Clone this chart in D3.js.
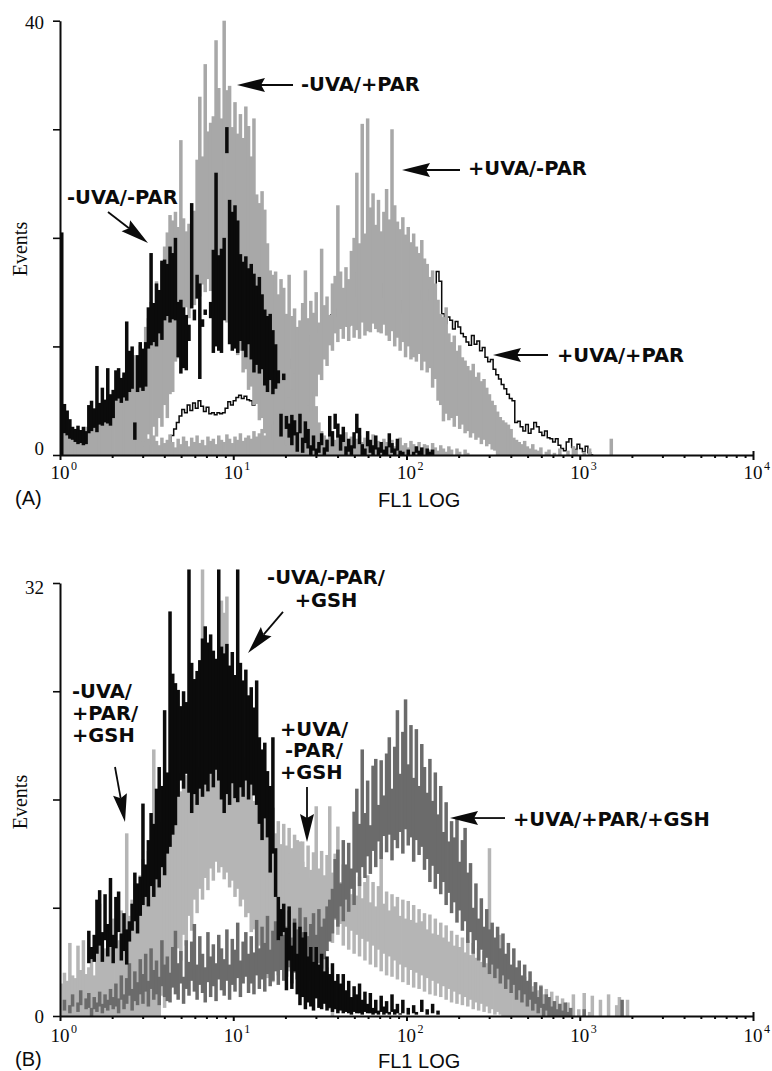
<!DOCTYPE html>
<html>
<head>
<meta charset="utf-8">
<title>FL1 LOG histograms</title>
<script src="https://cdn.jsdelivr.net/npm/d3@7/dist/d3.min.js"></script>
<style>
  html, body { margin: 0; padding: 0; background: #fff; }
  svg { display: block; }
</style>
</head>
<body>
<svg id="fig" width="772" height="1071"></svg>
<script>
// Log-spaced histogram channels: 64 per decade of FL1, channel k starts at 10^(k/64).
const CHANNELS_PER_DECADE = 64;

// Shared x axis (FL1 LOG) decades
const xDecades = [1, 10, 100, 1000, 10000];

// ---------------- Panel A ----------------
const A_yTicks = [0, 10, 20, 30, 40];
const A_yTickLabels = [0, 40];

// -UVA/-PAR (black): low / high extent of the jagged outline in each channel
const A_uvaNeg_parNeg_start = 0;
const A_uvaNeg_parNeg_hi = [
  20.5,
  4.7,4.1,3.3,2.6,2.4,2.7,2.3,2.6,2.2,4.6,
  5.0,4.3,8.2,4.8,6.2,5.1,8.0,5.6,6.0,7.8,
  8.0,7.1,7.6,12.3,9.6,10.0,3.0,9.2,10.4,9.8,
  10.4,13.6,18.6,14.0,15.8,15.2,17.9,18.0,17.6,19.2,
  18.6,20.0,14.1,14.3,13.6,12.9,12.0,23.2,13.4,16.6,
  15.8,12.5,13.4,0,14.1,18.9,26.0,18.4,19.0,20.0,
  30.2,23.5,22.4,23.0,21.6,18.5,17.8,18.3,17.2,17.6,
  16.7,15.6,16.4,14.8,13.4,12.8,13.0,11.5,10.2,7.8,
  3.8,7.5,3.6,2.9,3.7,3.2,2.1,3.8,1.6,3.1,
  2.4,0.9,1.8,0.6,1.2,2.0,0.7,1.4,3.6,2.2,
  3.8,2.9,1.9,2.6,0.8,1.5,0.9,2.1,3.8,2.5,
  1.0,0.6,2.2,1.4,0.9,1.8,0.7,1.2,0.5,0.8,
  2.0,1.1,0.6,1.5,0.4,0.3,0,0.5,0,0.3,
  0.8,0.4,0.7,0,0.6,0.3,0.5
];
const A_uvaNeg_parNeg_lo = [
  0,
  2.0,1.8,1.5,1.4,1.2,1.0,1.1,0.9,1.0,2.0,
  2.2,2.5,2.1,2.8,2.7,3.0,2.9,2.7,3.4,5.0,
  5.2,4.8,5.3,5.0,5.8,6.1,1.4,5.8,6.2,5.9,
  6.3,9.8,10.1,10.4,10.0,11.2,10.6,12.4,12.8,12.2,
  12.5,12.4,9.0,7.5,8.0,7.8,10.5,13.5,12.4,14.4,
  7.0,11.8,12.9,0,12.6,9.4,10.0,9.6,9.4,12.4,
  27.8,10.2,9.6,9.8,9.4,10.5,9.6,9.0,10.2,8.8,
  7.6,8.3,7.5,7.9,6.4,5.8,6.9,5.6,6.1,6.6,
  1.7,6.9,2.4,1.6,0.9,1.8,0.3,2.0,0.2,1.1,
  0.6,0,0.4,0,0.2,0.9,0,0.3,1.7,0.8,
  2.4,1.6,0.4,1.2,0,0.3,0,0.6,2.0,1.0,
  0,0,0.8,0.2,0,0.5,0,0.2,0,0,
  0.7,0.2,0,0.4,0,0,0,0,0,0,
  0.2,0,0,0,0,0,0
];

// -UVA/+PAR (grey)
const A_uvaNeg_parPos_start = 0;
const A_uvaNeg_parPos_hi = [
  1.5,2.0,1.8,2.2,1.6,1.9,2.4,1.7,2.0,2.6,2.1,
  2.8,3.3,2.5,3.0,3.6,4.4,3.2,4.0,4.8,5.5,
  6.2,5.8,7.4,6.9,8.0,7.6,9.2,8.5,10.1,9.6,
  11.8,12.6,14.1,13.2,16.0,15.1,17.7,19.2,20.5,22.1,
  21.6,22.4,21.0,29.0,21.8,20.6,21.3,20.4,22.5,27.2,
  33.0,27.5,36.0,29.8,30.6,31.2,38.2,33.8,31.0,40.0,
  33.6,34.0,30.2,32.5,29.6,31.4,29.2,32.1,30.3,27.5,
  31.0,24.0,23.2,24.3,22.6,19.5,17.0,16.6,16.9,14.8,
  16.2,15.4,13.0,16.6,12.8,13.5,11.8,12.4,14.0,11.5,
  10.2,8.6,6.8,4.5,3.0,2.2,1.8,1.5,2.0,1.6,
  1.4,1.9,1.2,1.6,2.1,1.3,1.7,1.1,1.5,1.8,
  1.2,1.6,1.0,1.4,1.9,1.1,1.3,0.9,1.5,1.2,
  1.0,1.4,0.8,1.2,1.6,0.9,1.1,0.7,1.3,1.0,
  0.8,1.2,0.6,1.0,0.9,0.5,1.1,0.7,0.4,0.9,
  0.6,0.3,0.8,0.5,0,0.6,0.3,0,0.5,0.2
];
const A_uvaNeg_parPos_lo = [
  0,0,0,0,0,0,0,0,0,0,0,
  0,0,0,0,0,0,0,0,0,0,
  0,0,0,0,0,0,0,0,0,0.3,
  0.5,1.9,0.8,2.6,1.7,3.4,2.6,4.6,3.4,5.6,
  5.8,8.6,8.9,11.5,11.4,13.6,12.6,14.4,13.8,15.4,
  14.6,15.7,15.0,16.2,15.1,16.0,14.8,15.3,13.6,14.0,
  12.2,12.6,10.6,11.0,9.2,9.6,7.6,7.9,6.0,6.3,
  4.6,4.7,3.2,3.4,2.0,2.4,1.3,1.5,0.6,0.9,
  0.3,0,0,0,0,0,0,0,0,0,
  0,0,0,0,0,0,0,0,0,0,
  0,0,0,0,0,0,0,0,0,0,
  0,0,0,0,0,0,0,0,0,0,
  0,0,0,0,0,0,0,0,0,0,
  0,0,0,0,0,0,0,0,0,0,
  0,0,0,0,0,0,0,0,0,0
];

// +UVA/-PAR (grey)
const A_uvaPos_parNeg_start = 30;
const A_uvaPos_parNeg_hi = [
  1.2,0.8,1.5,1.0,1.8,1.3,0.9,1.6,1.1,1.4,
  1.9,1.2,0.7,1.5,1.0,1.7,1.3,0.8,1.6,1.2,
  1.8,1.1,1.4,0.9,1.7,1.3,1.5,1.0,1.8,1.4,
  1.2,1.9,1.5,1.1,1.7,1.4,2.0,1.3,1.6,1.8,
  1.5,2.2,1.7,2.0,2.4,1.8,2.6,2.1,2.8,3.2,
  3.6,3.0,4.2,4.8,5.3,6.0,7.5,9.0,11.0,13.5,
  17.0,12.6,14.2,13.1,15.0,12.2,19.0,13.8,14.6,12.9,
  15.8,16.5,23.0,16.9,15.4,17.3,16.2,18.8,20.0,26.0,
  19.5,30.5,20.4,31.0,22.8,24.1,21.2,23.5,20.6,22.4,
  24.5,21.7,30.0,23.0,21.5,20.8,21.9,20.3,21.0,19.6,
  20.4,19.2,18.6,19.8,18.1,17.6,16.4,17.0,15.8,14.3,
  13.0,12.7,13.6,11.2,10.4,11.0,9.6,10.1,9.0,8.7,
  8.2,7.8,8.4,7.2,7.6,6.8,7.0,6.2,5.6,5.0,
  4.6,4.0,3.5,3.2,3.0,2.8,2.4,1.6,1.4,1.2,
  1.0,1.3,0.8,0.6,1.0,0.5,0.4,0.7,0,0.3,
  0.5,0,0.2,0,0.6,0,0,0.4,0,0.8,
  0.5,0,0,0.3,0,0.6,0,0,0,0,
  0,0,0,1.5,0,0
];
const A_uvaPos_parNeg_lo = [
  0,0,0,0,0,0,0,0,0,0,
  0,0,0,0,0,0,0,0,0,0,
  0,0,0,0,0,0,0,0,0,0,
  0,0,0,0,0,0,0,0,0,0,
  0,0,0,0,0,0,0,0,0,0,
  0,0,0.3,0.9,0.5,1.3,0.9,2.1,1.6,3.1,
  2.8,4.6,4.0,5.8,5.4,7.4,6.9,8.8,8.2,10.1,
  9.6,11.2,10.4,11.6,10.7,11.8,10.5,11.9,10.8,11.5,
  10.7,12.2,11.0,11.4,11.3,12.1,11.6,11.3,11.2,12.0,
  11.0,10.5,11.4,10.0,10.8,9.6,10.4,9.0,10.0,8.8,
  9.0,8.6,9.3,7.8,8.6,7.6,8.0,6.2,7.0,5.0,
  4.6,3.1,3.8,3.2,3.4,2.6,3.6,2.4,2.8,2.0,
  2.2,1.6,2.0,1.4,1.6,1.0,1.4,0.8,1.0,0.5,
  0.4,0,0,0,0,0,0,0,0,0,
  0,0,0,0,0,0,0,0,0,0,
  0,0,0,0,0,0,0,0,0,0,
  0,0,0,0,0,0,0,0,0,0,
  0,0,0,0,0,0
];

// +UVA/+PAR (black outline): events per channel
const A_uvaPos_parPos_start = 40;
const A_uvaPos_parPos = [
  1.2,1.8,2.4,3.0,3.6,4.2,3.9,4.6,4.1,4.8,
  4.3,5.0,4.5,4.0,4.4,3.8,3.9,3.7,3.9,3.8,
  3.9,4.3,4.9,4.6,5.0,5.3,5.5,5.2,5.4,5.1,
  5.0,4.6,5.2,5.8,6.1,5.7,6.4,6.9,6.5,7.2,
  7.6,7.1,7.9,8.4,8.0,8.8,9.3,8.9,9.7,10.2,
  9.8,10.5,11.0,10.6,11.3,11.8,11.2,12.0,12.6,12.1,
  12.9,13.4,12.8,13.1,12.4,13.0,11.9,12.8,14.6,16.8,
  14.3,15.2,14.8,16.0,14.6,15.4,16.2,17.0,14.5,15.8,
  16.0,13.5,14.8,12.2,14.0,13.1,14.2,13.6,14.9,14.1,
  15.3,15.0,14.4,15.1,14.6,15.2,14.3,15.5,14.0,16.9,
  16.0,13.0,12.1,12.7,12.4,11.6,12.3,11.8,11.2,10.9,
  10.4,10.1,11.0,10.2,10.5,9.6,9.9,9.0,8.6,8.8,
  7.9,7.4,7.0,6.5,6.1,5.6,5.2,5.0,3.0,3.1,
  2.6,2.2,2.8,2.0,2.4,3.0,2.6,2.1,1.8,2.2,
  1.6,1.5,1.2,1.5,0.9,0.6,0.4,1.2,1.5,0.7,
  0.5,1.0,0.6,0.3,0.8,0.2,0
];

// ---------------- Panel B ----------------
const B_yTicks = [0, 8, 16, 24, 32];
const B_yTickLabels = [0, 32];

// -UVA/-PAR/+GSH (black)
const B_uvaNeg_parNeg_gsh_start = 10;
const B_uvaNeg_parNeg_gsh_hi = [
  6.3,5.1,6.0,8.6,9.3,6.2,9.0,6.8,10.2,6.0,
  8.8,9.2,6.1,7.6,6.4,7.0,8.3,10.6,9.8,10.3,
  15.7,11.2,13.0,15.0,14.2,16.8,18.4,17.0,22.6,18.0,
  29.9,25.3,24.6,24.1,22.9,24.0,23.2,33.0,26.1,24.9,
  25.5,26.3,27.9,28.8,27.6,28.2,27.0,26.4,33.0,27.3,
  26.8,27.5,25.9,26.9,25.2,33.0,26.1,24.8,25.6,23.7,
  24.3,22.8,24.8,20.6,19.7,20.2,18.1,17.0,20.6,12.4,
  8.8,7.9,8.3,6.5,8.1,5.2,6.9,4.6,6.6,5.8,
  6.2,4.4,5.1,4.0,5.1,3.8,4.6,3.3,4.4,3.1,
  3.9,2.6,3.1,2.4,3.1,1.9,2.6,1.4,2.2,1.6,
  2.4,1.2,1.8,0.9,1.7,0.6,1.2,0.4,1.5,0.7,
  1.1,0.3,1.6,0.5,0.9,0.2,1.2,0,0.6,0,
  0.8,0.3,0,1.2,0,0.5,0,0.9,0,0.4,0
];
const B_uvaNeg_parNeg_gsh_lo = [
  3.9,4.2,4.0,4.6,5.2,4.0,5.6,4.4,5.1,3.9,
  5.0,6.2,4.1,4.8,3.8,5.5,6.3,7.0,6.1,7.4,
  8.2,8.8,8.1,9.6,8.8,10.1,9.5,11.0,10.4,12.0,
  12.5,13.4,14.1,16.2,17.4,16.8,17.9,16.5,15.0,16.4,
  15.6,16.8,16.2,17.1,16.6,17.9,16.9,18.2,17.4,16.0,
  15.0,16.4,15.6,17.2,16.1,15.8,16.9,16.2,17.4,16.0,
  17.1,16.3,15.6,14.2,13.0,14.6,13.2,10.6,12.0,8.8,
  5.6,5.9,6.2,1.9,4.1,2.0,3.3,1.6,0.8,1.4,
  0.5,1.0,0.7,0.4,1.3,0.6,0.5,0.9,0.4,0.6,
  0.3,0.5,0.2,0.4,0.2,0.3,0.2,0.1,0.3,0.2,
  0.2,0.1,0.3,0.2,0.2,0.1,0.2,0.1,0.3,0.1,
  0.2,0.1,0.3,0.1,0.2,0.1,0.2,0,0.1,0,
  0.2,0.1,0,0.3,0,0.1,0,0.2,0,0.1,0
];

// -UVA/+PAR/+GSH (light grey)
const B_uvaNeg_parPos_gsh_start = 0;
const B_uvaNeg_parPos_gsh_hi = [
  2.4,3.2,2.6,5.4,3.0,2.8,5.2,3.4,5.6,3.1,
  3.6,4.2,3.0,5.4,8.3,4.6,5.0,6.8,5.1,7.2,
  6.3,5.6,7.8,6.6,13.5,7.4,8.6,9.8,8.1,10.4,
  11.6,10.2,12.2,11.0,19.7,13.4,12.5,14.3,15.8,14.7,
  16.4,17.2,15.9,18.0,16.6,20.5,17.8,18.6,17.2,19.3,
  18.4,19.6,33.0,19.8,20.5,19.2,21.0,19.6,20.8,30.7,
  29.8,31.0,20.2,17.6,20.4,17.9,19.8,16.9,19.1,16.4,
  18.3,15.9,17.6,15.2,16.8,14.6,15.3,14.1,15.4,13.5,
  14.4,12.7,14.2,12.6,13.9,12.2,13.4,11.8,12.9,11.4,
  11.0,10.2,9.4,8.6,7.5,6.4,5.6,4.4,3.6,2.5,1.5
];
const B_uvaNeg_parPos_gsh_lo = [
  0,0,0,0,0,0,0,0,0,0,
  0,0,0,0,0,0,0,0,0,0,
  0,0,0,0,0,0,0,0,0,0,
  0,0,0,0,0,0,0,1.5,0.6,2.8,
  2.0,4.0,3.2,5.0,4.1,6.0,5.2,7.4,6.3,8.6,
  7.6,9.4,8.6,10.2,9.3,10.9,10.0,11.4,10.6,11.0,
  10.1,10.6,9.5,10.0,8.8,9.4,8.1,8.6,7.3,7.6,
  6.2,6.4,5.0,5.2,3.9,4.0,2.8,3.0,2.5,3.6,
  3.0,4.2,2.9,4.4,3.3,4.6,3.5,4.8,3.6,4.5,
  3.4,4.2,3.1,3.5,2.5,2.6,1.6,1.5,0.7,0.5,0
];

// +UVA/-PAR/+GSH (light grey)
const B_uvaPos_parNeg_gsh_start = 84;
const B_uvaPos_parNeg_gsh_hi = [
  10.5,12.4,11.3,13.0,11.6,12.9,11.0,12.6,10.8,12.1,
  15.5,10.9,12.2,10.4,11.9,15.5,10.6,12.0,14.0,9.9,
  11.2,9.4,10.8,9.0,10.6,8.9,10.3,8.7,9.9,10.4,
  8.4,9.9,8.1,9.6,12.8,8.3,9.2,7.8,9.0,8.1,
  8.8,7.4,8.6,7.2,8.5,7.1,8.2,6.9,7.9,7.0,
  7.6,6.4,7.5,6.1,7.2,6.0,6.9,5.8,6.7,5.5,
  6.3,5.2,6.0,5.1,5.8,4.7,5.6,4.5,5.4,4.3,
  5.0,4.0,4.8,3.9,12.4,4.5,3.6,4.3,6.0,3.4,
  3.3,3.7,3.0,3.4,2.8,3.1,2.6,2.9,2.3,2.7,
  2.2,2.5,1.9,2.3,1.6,2.0,1.4,1.8,1.1,1.5,
  0.9,1.3,0.6,1.0,0.4,1.6,0,0.5,0,1.7,
  0,0.3,1.5,0,0,1.2,0,0,1.6,0,
  0,0.8,1.4,0,0,1.2
];
const B_uvaPos_parNeg_gsh_lo = [
  3.5,4.6,3.9,5.0,4.2,5.6,4.6,6.2,5.0,6.4,
  5.6,6.8,5.4,7.0,5.9,6.6,5.4,7.1,6.0,6.8,
  5.2,6.6,4.9,6.3,4.6,6.0,4.4,5.7,4.1,5.5,
  3.8,5.2,3.6,4.9,3.3,4.6,3.0,4.4,2.9,4.1,
  2.7,3.8,2.5,3.6,2.3,3.4,2.1,3.2,2.0,3.0,
  1.8,2.8,1.6,2.6,1.5,2.4,1.4,2.2,1.2,2.0,
  1.0,1.8,0.9,1.6,0.8,1.4,0.7,1.2,0.5,1.0,
  0.4,0.9,0.3,0.7,0.2,0.5,0.1,0.3,0.1,0,
  0,0,0,0,0,0,0,0,0,0,
  0,0,0,0,0,0,0,0,0,0,
  0,0,0,0,0,0,0,0,0,0,
  0,0,0,0,0,0,0,0,0,0,
  0,0,0,0,0,0
];

// +UVA/+PAR/+GSH (dark grey)
const B_uvaPos_parPos_gsh_start = 0;
const B_uvaPos_parPos_gsh_hi = [
  0,1.2,0,0.8,1.6,0,1.0,1.9,0,1.3,
  1.7,0.6,1.4,1.0,1.8,0.9,1.6,1.2,2.0,1.4,
  2.4,1.3,3.0,1.6,2.8,3.9,2.0,3.3,2.5,4.2,
  3.1,4.6,2.6,5.0,3.4,4.1,2.9,5.6,3.8,4.4,
  3.2,5.1,6.3,3.9,4.8,2.9,5.6,4.0,5.5,6.8,
  3.8,5.9,4.6,3.6,6.2,4.4,5.3,3.9,6.0,5.0,
  4.2,6.4,3.8,5.7,4.9,6.9,4.1,5.5,6.2,4.6,
  5.9,4.7,7.1,5.0,6.6,5.4,7.4,4.9,6.3,7.0,
  5.6,7.9,6.0,6.6,7.8,5.8,7.2,6.4,8.0,6.2,
  7.3,5.9,6.8,7.6,6.0,7.9,6.6,7.2,8.1,8.6,
  9.4,11.6,12.3,9.8,13.0,11.2,12.8,10.9,15.1,16.8,
  14.2,19.7,15.0,17.4,14.1,18.5,19.0,15.6,18.9,16.3,
  19.4,20.6,16.8,19.9,22.6,17.9,21.0,23.4,18.6,21.5,
  17.6,21.2,17.0,20.1,18.4,16.5,19.0,15.9,18.0,14.9,
  17.0,13.6,15.8,12.9,14.4,13.2,14.6,11.4,13.0,13.9,
  10.6,11.3,8.0,9.8,7.2,8.7,6.6,7.9,6.4,6.9,
  5.8,6.6,5.0,6.1,4.6,5.4,3.8,5.0,3.6,4.1,
  3.0,3.8,2.6,3.3,1.8,2.5,1.4,2.2,0.9,1.6,
  1.4,0.7,1.1,0.5,0.9,0.4,1.0,0.3,0.6,0,
  0,0,0,0.5,0,0,0,0,0,0,
  0,0,0,0,0,0,0,1.2
];
const B_uvaPos_parPos_gsh_lo = [
  0,0.4,0,0.2,0.7,0,0.3,0.8,0,0.5,
  0.6,0,0.5,0.3,0.7,0.2,0.6,0.4,0.8,0.5,
  0.7,0.2,1.2,0.5,0.9,1.5,0.4,1.1,0.8,1.6,
  0.9,1.8,0.7,2.0,1.2,1.6,0.8,2.2,1.4,1.1,
  1.0,2.1,1.6,1.2,2.4,0.9,2.0,1.5,2.6,1.8,
  1.2,2.3,1.7,1.0,2.5,1.4,2.2,1.1,2.7,1.9,
  1.5,2.6,1.2,2.3,1.8,2.8,1.4,2.4,2.9,1.7,
  2.4,1.6,3.0,2.0,2.7,1.8,3.1,2.2,2.6,3.3,
  2.3,3.4,2.6,2.9,3.6,2.4,3.2,2.7,3.5,2.8,
  3.3,2.6,3.4,3.7,3.0,3.9,3.5,4.2,4.8,5.5,
  6.1,7.2,6.6,8.1,7.0,8.6,7.7,9.4,8.2,10.6,
  9.6,11.0,10.2,11.8,10.5,12.2,11.0,12.9,11.6,13.3,
  12.1,13.4,11.5,13.0,12.4,13.6,12.0,13.8,12.6,13.2,
  11.4,13.0,11.9,12.5,10.8,11.6,9.9,11.1,9.4,10.5,
  9.0,9.9,8.2,9.1,7.6,8.4,6.9,7.8,6.3,7.0,
  5.4,6.2,4.6,5.6,4.1,4.9,3.6,4.3,3.1,3.8,
  2.8,3.5,2.4,3.0,2.0,2.7,1.7,2.3,1.2,1.9,
  1.0,1.6,0.7,1.2,0.4,0.9,0.2,0.6,0,0.4,
  0,0,0,0,0,0,0,0,0,0,
  0,0,0,0,0,0,0,0,0,0,
  0,0,0,0,0,0,0,0
];

// ---------------- drawing ----------------
const INK = "#0b0b0b";
const GREY_A = "#a8a8a8";
const LIGHT_B = "#b5b5b5";
const DARK_B = "#6b6b6b";

const svg = d3.select("#fig");
const chanX = c => Math.pow(10, c / CHANNELS_PER_DECADE);

// A band layer: each channel is filled between its low and high count
function drawBand(g, x, y, L) {
  const bins = L.hi.map((h, k) => ({ c: L.start + k, h, l: L.lo[k] }))
    .filter(d => d.h > d.l);
  g.append("g").selectAll("rect").data(bins).join("rect")
    .attr("x", d => x(chanX(d.c)))
    .attr("width", d => x(chanX(d.c + 1)) - x(chanX(d.c)) + 0.8)
    .attr("y", d => y(d.h))
    .attr("height", d => y(d.l) - y(d.h))
    .attr("fill", L.color);
}

// An outline layer: plain step histogram
function drawStep(g, x, y, L) {
  const pts = L.values.map((v, k) => [chanX(L.start + k), v]);
  pts.push([chanX(L.start + L.values.length), L.values[L.values.length - 1]]);
  g.append("path").datum(pts)
    .attr("d", d3.line().x(d => x(d[0])).y(d => y(d[1])).curve(d3.curveStepAfter))
    .attr("fill", "none").attr("stroke", L.color).attr("stroke-width", 1.5);
}

function drawArrow(g, x, y, a) {
  const tx = x(a.tail[0]), ty = y(a.tail[1]);
  const hx = x(a.tip[0]), hy = y(a.tip[1]);
  const len = Math.hypot(hx - tx, hy - ty);
  const ux = (hx - tx) / len, uy = (hy - ty) / len;
  const headLen = 28, half = 7;
  const bx = hx - ux * headLen, by = hy - uy * headLen;
  g.append("line")
    .attr("x1", tx).attr("y1", ty).attr("x2", bx + ux * 4).attr("y2", by + uy * 4)
    .attr("stroke", INK).attr("stroke-width", 1.8);
  const pts = [
    [hx, hy],
    [bx - uy * half, by + ux * half],
    [hx - ux * headLen * 0.86, hy - uy * headLen * 0.86],
    [bx + uy * half, by - ux * half]
  ];
  g.append("polygon").attr("points", pts.map(p => p.join(",")).join(" ")).attr("fill", INK);
}

function drawPanel(p) {
  const x = d3.scaleLog().domain([1, 1e4]).range([60, 753]);
  const y = d3.scaleLinear().domain([0, p.yMax]).range([p.yBase, p.yTop]);
  const g = svg.append("g");

  p.layers.forEach(L => (L.values ? drawStep : drawBand)(g, x, y, L));

  // y axis
  const gy = g.append("g").attr("transform", `translate(${x(1)},0)`)
    .call(d3.axisLeft(y).tickValues(p.yTicks).tickSize(7).tickSizeOuter(0).tickPadding(9)
      .tickFormat(d => p.yTickLabels.includes(d) ? d : ""));
  gy.attr("font-family", "'Liberation Serif', 'Times New Roman', serif").attr("font-size", 19);
  gy.select(".domain").attr("stroke", INK).attr("stroke-width", 2);
  gy.selectAll(".tick line").attr("stroke", INK).attr("stroke-width", 1.6);
  gy.selectAll(".tick text").attr("fill", INK)
    .attr("transform", d => `translate(0,${p.yLabelShift[d] || 0})`);

  // x axis: decades plus log minor ticks
  const isDecade = v => Math.abs(Math.log10(v) - Math.round(Math.log10(v))) < 1e-9;
  const gx = g.append("g").attr("transform", `translate(0,${y(0)})`)
    .call(d3.axisBottom(x).tickValues(x.ticks()).tickSizeOuter(0).tickFormat(""));
  gx.select(".domain").attr("stroke", INK).attr("stroke-width", 2);
  gx.selectAll(".tick line").attr("stroke", INK).attr("stroke-width", 2)
    .attr("y1", d => d === 1e4 ? -4 : 0)
    .attr("y2", d => isDecade(d) ? 5 : 3);

  // decade labels 10^n
  const lab = g.append("g").attr("fill", INK)
    .attr("font-family", "'Liberation Serif', 'Times New Roman', serif");
  xDecades.forEach(v => {
    const n = Math.round(Math.log10(v));
    lab.append("text").attr("x", x(v)).attr("y", y(0) + p.xLabelDrop)
      .attr("text-anchor", "middle").attr("font-size", 19).text("10");
    lab.append("text").attr("x", x(v) + 11).attr("y", y(0) + p.xLabelDrop - 9)
      .attr("font-size", 12).text(n);
  });

  // axis titles and panel tag
  g.append("text").attr("transform", `translate(27,${p.eventsY}) rotate(-90)`)
    .attr("text-anchor", "middle").attr("fill", INK)
    .attr("font-family", "'Liberation Serif', 'Times New Roman', serif").attr("font-size", 20)
    .text("Events");
  g.append("text").attr("x", 378).attr("y", y(0) + 52).attr("fill", INK)
    .attr("font-family", "'Liberation Sans', Arial, sans-serif").attr("font-size", 20)
    .text("FL1 LOG");
  g.append("text").attr("x", 15).attr("y", y(0) + 50).attr("fill", INK)
    .attr("font-family", "'Liberation Sans', Arial, sans-serif").attr("font-size", 20)
    .text(p.tag);

  // annotations
  p.notes.forEach(a => {
    drawArrow(g, x, y, a);
    a.lines.forEach(ln => {
      g.append("text").attr("x", x(ln.x)).attr("y", y(ln.y))
        .attr("text-anchor", ln.anchor || "start").attr("fill", INK)
        .attr("font-family", "'DejaVu Sans', Verdana, sans-serif")
        .attr("font-weight", "bold").attr("font-size", 19.5)
        .text(ln.t);
    });
  });
}

drawPanel({
  tag: "(A)", yMax: 40, yBase: 455, yTop: 20.7, eventsY: 249, xLabelDrop: 24,
  yTicks: A_yTicks, yTickLabels: A_yTickLabels, yLabelShift: { 0: -7, 40: 2 },
  layers: [
    { start: A_uvaPos_parPos_start, values: A_uvaPos_parPos, color: INK },
    { start: A_uvaNeg_parPos_start, hi: A_uvaNeg_parPos_hi, lo: A_uvaNeg_parPos_lo, color: GREY_A },
    { start: A_uvaPos_parNeg_start, hi: A_uvaPos_parNeg_hi, lo: A_uvaPos_parNeg_lo, color: GREY_A },
    { start: A_uvaNeg_parNeg_start, hi: A_uvaNeg_parNeg_hi, lo: A_uvaNeg_parNeg_lo, color: INK }
  ],
  notes: [
    { lines: [{ t: "-UVA/+PAR", x: 24.61, y: 33.53 }], tail: [22.13, 34.08], tip: [10.51, 34.08] },
    { lines: [{ t: "+UVA/-PAR", x: 226.4, y: 25.79 }], tail: [203.6, 26.25], tip: [94.2, 26.25] },
    { lines: [{ t: "-UVA/-PAR", x: 1.098, y: 23.12 }], tail: [1.892, 22.38], tip: [3.221, 19.53] },
    { lines: [{ t: "+UVA/+PAR", x: 738.9, y: 8.57 }], tail: [655.8, 9.21], tip: [315.7, 9.21] }
  ]
});

drawPanel({
  tag: "(B)", yMax: 32, yBase: 1016, yTop: 583, eventsY: 802, xLabelDrop: 26,
  yTicks: B_yTicks, yTickLabels: B_yTickLabels, yLabelShift: { 32: 4 },
  layers: [
    { start: B_uvaNeg_parPos_gsh_start, hi: B_uvaNeg_parPos_gsh_hi, lo: B_uvaNeg_parPos_gsh_lo, color: LIGHT_B },
    { start: B_uvaPos_parNeg_gsh_start, hi: B_uvaPos_parNeg_gsh_hi, lo: B_uvaPos_parNeg_gsh_lo, color: LIGHT_B },
    { start: B_uvaPos_parPos_gsh_start, hi: B_uvaPos_parPos_gsh_hi, lo: B_uvaPos_parPos_gsh_lo, color: DARK_B },
    { start: B_uvaNeg_parNeg_gsh_start, hi: B_uvaNeg_parNeg_gsh_hi, lo: B_uvaNeg_parNeg_gsh_lo, color: INK }
  ],
  notes: [
    { lines: [{ t: "-UVA/-PAR/", x: 34.3, y: 31.93, anchor: "middle" },
              { t: "+GSH", x: 34.3, y: 30.23, anchor: "middle" }],
      tail: [19.37, 29.86], tip: [12.17, 26.83] },
    { lines: [{ t: "-UVA/", x: 1.173, y: 23.50 },
              { t: "+PAR/", x: 1.173, y: 21.88 },
              { t: "+GSH", x: 1.173, y: 20.25 }],
      tail: [2.077, 18.40], tip: [2.372, 14.34] },
    { lines: [{ t: "+UVA/", x: 18.61, y: 20.69 },
              { t: "-PAR/", x: 19.89, y: 19.14 },
              { t: "+GSH", x: 18.61, y: 17.52 }],
      tail: [26.65, 16.93], tip: [26.65, 12.86] },
    { lines: [{ t: "+UVA/+PAR/+GSH", x: 411.9, y: 14.04 }], tail: [370.3, 14.63], tip: [178.3, 14.63] }
  ]
});
</script>
</body>
</html>
